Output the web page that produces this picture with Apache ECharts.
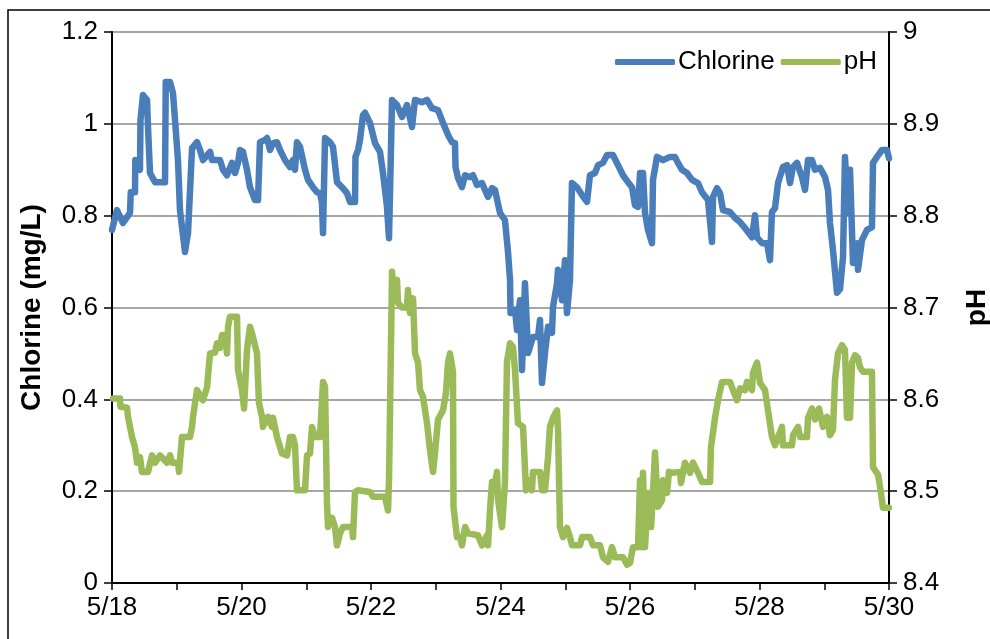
<!DOCTYPE html>
<html>
<head>
<meta charset="utf-8">
<script src="https://cdn.jsdelivr.net/npm/echarts@6/dist/echarts.min.js"></script>
<style>
  html, body { margin: 0; padding: 0; background: #fff; }
  #chart { width: 990px; height: 639px; }
</style>
</head>
<body>
<div id="chart"></div>
<script>
// Time is counted in days from 5/18 00:00.
const dateLabels = ['5/18', '5/20', '5/22', '5/24', '5/26', '5/28', '5/30'];

// Free chlorine residual (mg/L)
const chlorineTime = [
  0.000, 0.077, 0.170, 0.278, 0.290, 0.355, 0.360, 0.432, 0.440, 0.479, 0.541, 0.556, 0.587, 0.664, 0.819, 0.830,
  0.896, 0.942, 1.019, 1.050, 1.127, 1.174, 1.236, 1.313, 1.359, 1.405, 1.514, 1.544, 1.668, 1.714, 1.776, 1.853,
  1.900, 1.946, 1.977, 2.023, 2.085, 2.131, 2.208, 2.255, 2.286, 2.363, 2.394, 2.440, 2.486, 2.548, 2.595, 2.672,
  2.749, 2.795, 2.826, 2.857, 2.903, 2.981, 3.027, 3.104, 3.166, 3.212, 3.243, 3.259, 3.290, 3.367, 3.413, 3.475,
  3.552, 3.629, 3.676, 3.753, 3.760, 3.799, 3.830, 3.876, 3.907, 3.985, 4.062, 4.139, 4.185, 4.247, 4.278, 4.325,
  4.402, 4.479, 4.556, 4.633, 4.680, 4.788, 4.865, 4.942, 5.035, 5.112, 5.189, 5.251, 5.297, 5.305, 5.344, 5.405,
  5.452, 5.529, 5.575, 5.637, 5.714, 5.761, 5.807, 5.869, 5.915, 5.992, 6.069, 6.116, 6.147, 6.155, 6.224, 6.255,
  6.301, 6.332, 6.378, 6.425, 6.502, 6.579, 6.610, 6.641, 6.687, 6.734, 6.795, 6.811, 6.873, 6.888, 6.950, 6.996,
  7.027, 7.073, 7.104, 7.181, 7.259, 7.336, 7.382, 7.459, 7.506, 7.583, 7.645, 7.737, 7.815, 7.892, 7.969, 8.031,
  8.077, 8.124, 8.155, 8.201, 8.232, 8.278, 8.340, 8.355, 8.417, 8.510, 8.618, 8.695, 8.741, 8.803, 8.880, 8.958,
  9.050, 9.112, 9.205, 9.266, 9.282, 9.344, 9.390, 9.436, 9.544, 9.622, 9.699, 9.776, 9.884, 9.931, 9.961, 10.039,
  10.116, 10.162, 10.193, 10.239, 10.286, 10.363, 10.425, 10.471, 10.517, 10.579, 10.656, 10.703, 10.749, 10.811, 10.857, 10.934,
  11.012, 11.058, 11.089, 11.135, 11.197, 11.243, 11.290, 11.320, 11.367, 11.398, 11.444, 11.506, 11.521, 11.583, 11.660, 11.737,
  11.753, 11.815, 11.892, 11.969, 12.000
];
const chlorineValue = [
  0.769, 0.812, 0.784, 0.806, 0.851, 0.851, 0.921, 0.900, 1.008, 1.063, 1.052, 0.993, 0.893, 0.873, 0.873, 1.091,
  1.091, 1.067, 0.921, 0.812, 0.721, 0.762, 0.947, 0.960, 0.943, 0.921, 0.939, 0.921, 0.921, 0.900, 0.888, 0.915,
  0.893, 0.915, 0.943, 0.939, 0.900, 0.862, 0.834, 0.834, 0.960, 0.965, 0.969, 0.943, 0.958, 0.960, 0.943, 0.921,
  0.906, 0.921, 0.900, 0.960, 0.950, 0.900, 0.878, 0.862, 0.851, 0.849, 0.828, 0.762, 0.969, 0.960, 0.950, 0.873,
  0.862, 0.849, 0.830, 0.830, 0.928, 0.943, 0.965, 1.019, 1.024, 1.002, 0.958, 0.939, 0.893, 0.819, 0.751, 1.052,
  1.041, 1.015, 1.041, 0.993, 1.052, 1.047, 1.052, 1.034, 1.030, 1.002, 0.976, 0.960, 0.958, 0.906, 0.882, 0.862,
  0.888, 0.884, 0.888, 0.867, 0.871, 0.856, 0.841, 0.860, 0.856, 0.806, 0.790, 0.721, 0.660, 0.588, 0.595, 0.551,
  0.616, 0.464, 0.653, 0.501, 0.536, 0.536, 0.573, 0.436, 0.501, 0.558, 0.545, 0.601, 0.653, 0.682, 0.616, 0.703,
  0.588, 0.660, 0.871, 0.862, 0.845, 0.830, 0.888, 0.893, 0.910, 0.915, 0.932, 0.932, 0.910, 0.888, 0.873, 0.862,
  0.823, 0.819, 0.893, 0.893, 0.806, 0.769, 0.740, 0.878, 0.928, 0.921, 0.928, 0.928, 0.915, 0.900, 0.893, 0.878,
  0.871, 0.851, 0.834, 0.743, 0.841, 0.860, 0.849, 0.812, 0.808, 0.795, 0.786, 0.773, 0.753, 0.801, 0.753, 0.740,
  0.740, 0.703, 0.808, 0.816, 0.871, 0.906, 0.910, 0.871, 0.906, 0.915, 0.884, 0.856, 0.921, 0.921, 0.900, 0.904,
  0.884, 0.856, 0.784, 0.725, 0.632, 0.640, 0.710, 0.928, 0.806, 0.900, 0.697, 0.740, 0.682, 0.747, 0.769, 0.775,
  0.915, 0.928, 0.943, 0.943, 0.925
];

// pH
const phTime = [
  0.015, 0.124, 0.130, 0.232, 0.247, 0.309, 0.355, 0.386, 0.432, 0.463, 0.556, 0.618, 0.664, 0.741, 0.849, 0.896,
  0.927, 1.019, 1.035, 1.081, 1.205, 1.236, 1.251, 1.313, 1.405, 1.467, 1.514, 1.591, 1.622, 1.668, 1.699, 1.745,
  1.776, 1.792, 1.822, 1.931, 1.946, 2.008, 2.039, 2.085, 2.131, 2.178, 2.239, 2.270, 2.317, 2.332, 2.409, 2.471,
  2.486, 2.548, 2.625, 2.703, 2.749, 2.795, 2.826, 2.857, 2.981, 3.012, 3.058, 3.089, 3.135, 3.212, 3.259, 3.290,
  3.320, 3.336, 3.398, 3.444, 3.475, 3.521, 3.568, 3.707, 3.722, 3.753, 3.799, 3.985, 4.031, 4.216, 4.263, 4.278,
  4.325, 4.340, 4.402, 4.417, 4.479, 4.556, 4.571, 4.602, 4.649, 4.680, 4.726, 4.757, 4.803, 4.865, 4.911, 4.958,
  4.988, 5.035, 5.112, 5.158, 5.189, 5.220, 5.266, 5.274, 5.328, 5.375, 5.405, 5.452, 5.498, 5.653, 5.714, 5.792,
  5.807, 5.838, 5.869, 5.915, 5.946, 5.961, 6.023, 6.069, 6.100, 6.147, 6.193, 6.224, 6.270, 6.348, 6.394, 6.425,
  6.486, 6.502, 6.610, 6.641, 6.687, 6.734, 6.764, 6.811, 6.873, 6.888, 6.919, 6.965, 7.027, 7.073, 7.104, 7.228,
  7.259, 7.382, 7.429, 7.537, 7.583, 7.660, 7.722, 7.768, 7.892, 7.954, 8.000, 8.046, 8.124, 8.155, 8.185, 8.201,
  8.232, 8.278, 8.325, 8.355, 8.386, 8.432, 8.494, 8.510, 8.571, 8.602, 8.664, 8.772, 8.788, 8.849, 8.927, 8.973,
  9.050, 9.112, 9.236, 9.251, 9.313, 9.359, 9.421, 9.544, 9.591, 9.652, 9.699, 9.776, 9.807, 9.884, 9.900, 9.961,
  10.008, 10.085, 10.131, 10.193, 10.239, 10.347, 10.363, 10.502, 10.517, 10.595, 10.626, 10.734, 10.749, 10.811, 10.857, 10.919,
  10.981, 11.042, 11.089, 11.135, 11.166, 11.212, 11.274, 11.320, 11.351, 11.398, 11.429, 11.475, 11.521, 11.552, 11.598, 11.737,
  11.753, 11.830, 11.861, 11.907, 12.000
];
const phValue = [
  8.601, 8.601, 8.592, 8.591, 8.581, 8.559, 8.548, 8.531, 8.537, 8.521, 8.521, 8.539, 8.531, 8.539, 8.531, 8.539,
  8.531, 8.531, 8.521, 8.559, 8.559, 8.570, 8.581, 8.610, 8.599, 8.613, 8.650, 8.651, 8.661, 8.656, 8.670, 8.670,
  8.650, 8.679, 8.690, 8.690, 8.632, 8.610, 8.590, 8.654, 8.679, 8.668, 8.650, 8.596, 8.581, 8.570, 8.581, 8.570,
  8.580, 8.559, 8.541, 8.539, 8.559, 8.559, 8.550, 8.501, 8.501, 8.539, 8.541, 8.570, 8.559, 8.559, 8.619, 8.614,
  8.487, 8.461, 8.471, 8.461, 8.441, 8.454, 8.461, 8.461, 8.450, 8.499, 8.501, 8.499, 8.494, 8.494, 8.479, 8.512,
  8.739, 8.722, 8.730, 8.705, 8.700, 8.700, 8.719, 8.694, 8.710, 8.650, 8.640, 8.610, 8.603, 8.574, 8.545, 8.521,
  8.541, 8.578, 8.588, 8.607, 8.640, 8.650, 8.630, 8.483, 8.450, 8.450, 8.441, 8.461, 8.454, 8.452, 8.441, 8.452,
  8.441, 8.479, 8.510, 8.509, 8.521, 8.491, 8.461, 8.509, 8.641, 8.661, 8.657, 8.632, 8.574, 8.570, 8.501, 8.512,
  8.501, 8.521, 8.521, 8.501, 8.501, 8.537, 8.570, 8.580, 8.588, 8.567, 8.461, 8.450, 8.460, 8.450, 8.441, 8.441,
  8.450, 8.450, 8.441, 8.441, 8.428, 8.423, 8.439, 8.428, 8.428, 8.420, 8.422, 8.439, 8.439, 8.512, 8.439, 8.520,
  8.439, 8.498, 8.461, 8.498, 8.542, 8.483, 8.490, 8.512, 8.498, 8.521, 8.520, 8.521, 8.509, 8.531, 8.520, 8.531,
  8.520, 8.510, 8.510, 8.548, 8.580, 8.599, 8.619, 8.619, 8.610, 8.599, 8.612, 8.610, 8.619, 8.610, 8.629, 8.640,
  8.618, 8.610, 8.588, 8.559, 8.550, 8.570, 8.550, 8.550, 8.561, 8.570, 8.559, 8.559, 8.580, 8.590, 8.578, 8.590,
  8.570, 8.581, 8.561, 8.567, 8.621, 8.650, 8.659, 8.654, 8.580, 8.580, 8.640, 8.648, 8.645, 8.635, 8.630, 8.630,
  8.526, 8.518, 8.505, 8.482, 8.482
];

const zip = (xs, ys) => xs.map((x, i) => [x, ys[i]]);

const FONT = '"Liberation Sans", Arial, sans-serif';
const CL_COLOR = '#4A7EBB';
const PH_COLOR = '#9BBB59';

const chart = echarts.init(document.getElementById('chart'), null, { renderer: 'canvas' });

chart.setOption({
  animation: false,
  backgroundColor: '#ffffff',
  textStyle: { fontFamily: FONT },
  graphic: [{
    type: 'rect',
    shape: { x: 8, y: 10, width: 1000, height: 700 },
    style: { fill: 'none', stroke: '#000', lineWidth: 1.5 },
    silent: true,
    z: -1
  }],
  grid: { left: 112, right: 101, top: 32, bottom: 56, containLabel: false, outerBoundsMode: 'none' },
  legend: {
    right: 108,
    top: 44,
    itemWidth: 60,
    itemHeight: 6,
    itemGap: 6,
    icon: 'roundRect',
    textStyle: { fontFamily: FONT, fontSize: 26, color: '#000', padding: [0, 0, 0, -2] },
    data: ['Chlorine', 'pH']
  },
  xAxis: {
    type: 'value',
    min: 0,
    max: 12,
    interval: 1,
    axisLine: { lineStyle: { color: '#000', width: 2 } },
    axisTick: { show: true, inside: false, length: 7, lineStyle: { color: '#000', width: 1.5 } },
    axisLabel: {
      margin: 12,
      fontFamily: FONT,
      fontSize: 26,
      color: '#000',
      formatter: v => (Math.round(v) % 2 === 0 ? dateLabels[Math.round(v) / 2] : '')
    },
    splitLine: { show: false }
  },
  yAxis: [{
    type: 'value',
    position: 'left',
    min: 0,
    max: 1.2,
    interval: 0.2,
    name: 'Chlorine (mg/L)',
    nameLocation: 'middle',
    nameGap: 66,
    nameTextStyle: { fontFamily: FONT, fontSize: 28, fontWeight: 'bold', color: '#000' },
    axisLine: { show: true, lineStyle: { color: '#000', width: 2 } },
    axisTick: { show: true, inside: false, length: 8, lineStyle: { color: '#000', width: 1.5 } },
    axisLabel: {
      margin: 14,
      fontFamily: FONT,
      fontSize: 26,
      color: '#000',
      formatter: v => (v === 0 ? '0' : +v.toFixed(1) + '')
    },
    splitLine: { show: true, lineStyle: { color: '#A6A6A6', width: 2 } }
  }, {
    type: 'value',
    position: 'right',
    min: 8.4,
    max: 9.0,
    interval: 0.1,
    name: 'pH',
    nameLocation: 'middle',
    nameGap: 74,
    nameRotate: 90,
    nameTextStyle: { fontFamily: FONT, fontSize: 28, fontWeight: 'bold', color: '#000' },
    axisLine: { show: true, lineStyle: { color: '#000', width: 2 } },
    axisTick: { show: true, inside: false, length: 8, lineStyle: { color: '#000', width: 1.5 } },
    axisLabel: {
      margin: 14,
      fontFamily: FONT,
      fontSize: 26,
      color: '#000',
      formatter: v => (Math.abs(v - 9) < 1e-9 ? '9' : v.toFixed(1))
    },
    splitLine: { show: false }
  }],
  series: [{
    name: 'Chlorine',
    type: 'line',
    yAxisIndex: 0,
    data: zip(chlorineTime, chlorineValue),
    showSymbol: false,
    symbol: 'none',
    itemStyle: { color: CL_COLOR },
    lineStyle: { color: CL_COLOR, width: 6.5, join: 'round', cap: 'round' }
  }, {
    name: 'pH',
    type: 'line',
    yAxisIndex: 1,
    data: zip(phTime, phValue),
    showSymbol: false,
    symbol: 'none',
    itemStyle: { color: PH_COLOR },
    lineStyle: { color: PH_COLOR, width: 6.5, join: 'round', cap: 'round' }
  }]
});
</script>
</body>
</html>
